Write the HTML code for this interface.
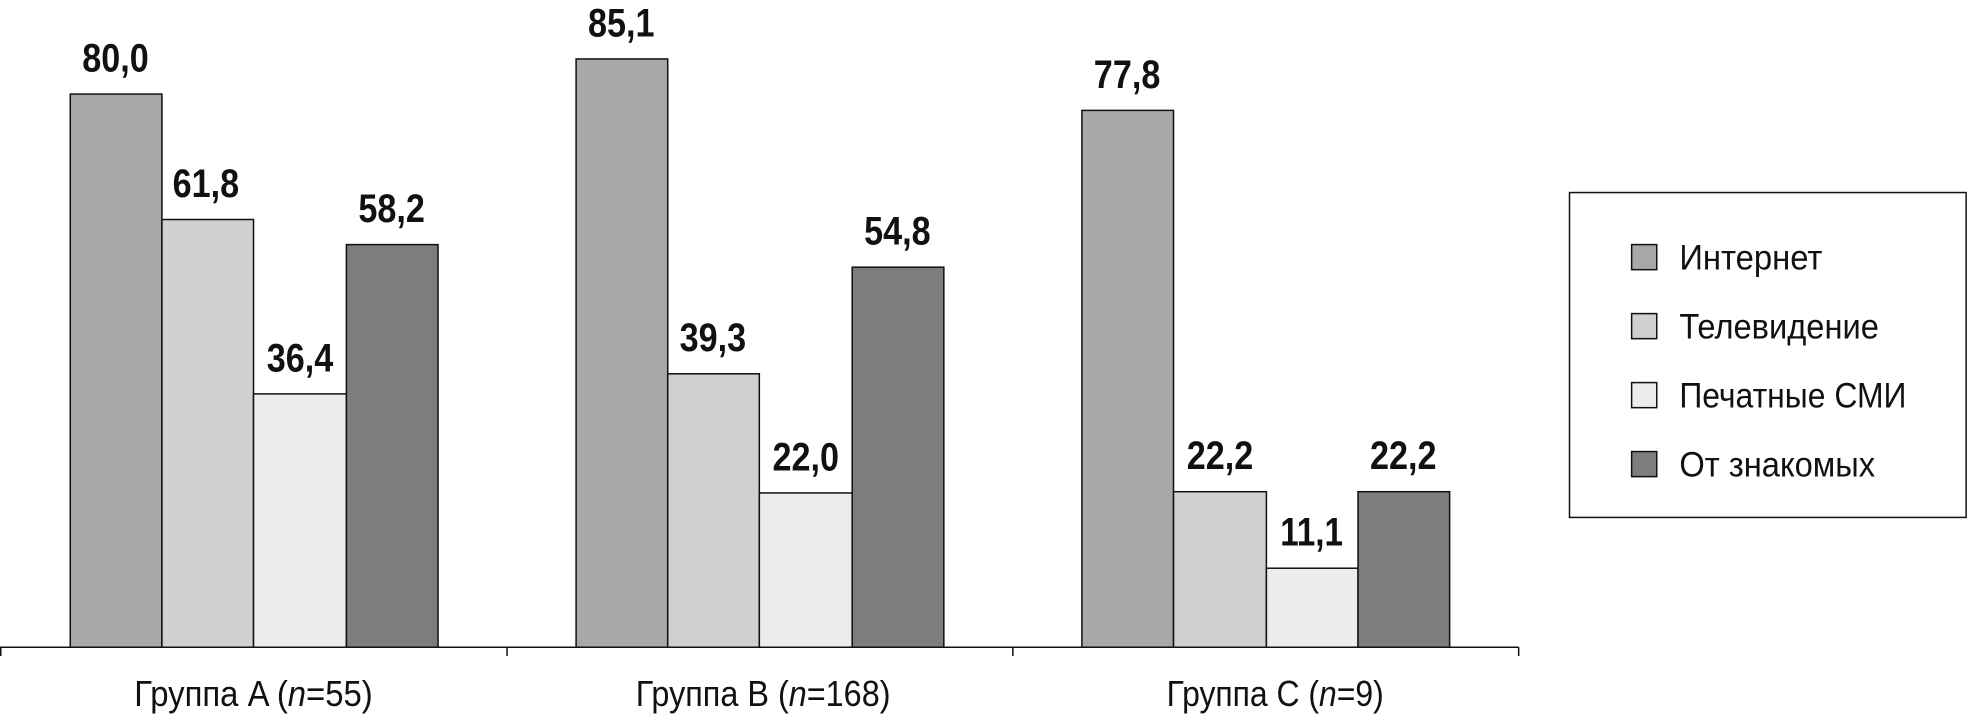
<!DOCTYPE html>
<html><head><meta charset="utf-8"><style>
html,body{margin:0;padding:0;background:#fff;}
svg{display:block;}
text{font-family:"Liberation Sans",sans-serif;fill:#111;}
.v{font-weight:bold;font-size:32px;text-anchor:middle;}
.c{font-size:29px;text-anchor:middle;}
.l{font-size:28px;}
</style></head><body>
<svg width="1968" height="720" viewBox="0 0 1568 574" preserveAspectRatio="none" xmlns="http://www.w3.org/2000/svg">
<g stroke="#111" stroke-width="1.2">
<rect x="56" y="75" width="73" height="441" fill="#a8a8a8"/>
<rect x="129" y="175" width="73" height="341" fill="#d0d0d0"/>
<rect x="202" y="314" width="74" height="202" fill="#ececec"/>
<rect x="276" y="195" width="73" height="321" fill="#7d7d7d"/>
<rect x="459" y="47" width="73" height="469" fill="#a8a8a8"/>
<rect x="532" y="298" width="73" height="218" fill="#d0d0d0"/>
<rect x="605" y="393" width="74" height="123" fill="#ececec"/>
<rect x="679" y="213" width="73" height="303" fill="#7d7d7d"/>
<rect x="862" y="88" width="73" height="428" fill="#a8a8a8"/>
<rect x="935" y="392" width="74" height="124" fill="#d0d0d0"/>
<rect x="1009" y="453" width="73" height="63" fill="#ececec"/>
<rect x="1082" y="392" width="73" height="124" fill="#7d7d7d"/>
<line x1="0" y1="516" x2="1210" y2="516"/>
<line x1="0.6" y1="516" x2="0.6" y2="523"/>
<line x1="404" y1="516" x2="404" y2="523"/>
<line x1="807" y1="516" x2="807" y2="523"/>
<line x1="1210" y1="516" x2="1210" y2="523"/>
<rect x="1250.5" y="153.5" width="316" height="259" fill="#fff"/>
<rect x="1300" y="195" width="20" height="20" fill="#a8a8a8"/>
<rect x="1300" y="250" width="20" height="20" fill="#d0d0d0"/>
<rect x="1300" y="305" width="20" height="20" fill="#ececec"/>
<rect x="1300" y="360" width="20" height="20" fill="#7d7d7d"/>
</g>
<text class="v" x="92" y="57" textLength="53" lengthAdjust="spacingAndGlyphs">80,0</text>
<text class="v" x="164" y="157" textLength="53" lengthAdjust="spacingAndGlyphs">61,8</text>
<text class="v" x="239" y="296" textLength="53" lengthAdjust="spacingAndGlyphs">36,4</text>
<text class="v" x="312" y="177" textLength="53" lengthAdjust="spacingAndGlyphs">58,2</text>
<text class="v" x="495" y="29" textLength="53" lengthAdjust="spacingAndGlyphs">85,1</text>
<text class="v" x="568" y="280" textLength="53" lengthAdjust="spacingAndGlyphs">39,3</text>
<text class="v" x="642" y="375" textLength="53" lengthAdjust="spacingAndGlyphs">22,0</text>
<text class="v" x="715" y="195" textLength="53" lengthAdjust="spacingAndGlyphs">54,8</text>
<text class="v" x="898" y="70" textLength="53" lengthAdjust="spacingAndGlyphs">77,8</text>
<text class="v" x="972" y="374" textLength="53" lengthAdjust="spacingAndGlyphs">22,2</text>
<text class="v" x="1045" y="435" textLength="50" lengthAdjust="spacingAndGlyphs">11,1</text>
<text class="v" x="1118" y="374" textLength="53" lengthAdjust="spacingAndGlyphs">22,2</text>
<text class="c" x="202" y="563" textLength="190" lengthAdjust="spacingAndGlyphs">Группа A (<tspan font-style="italic">n</tspan>=55)</text>
<text class="c" x="608" y="563" textLength="203" lengthAdjust="spacingAndGlyphs">Группа B (<tspan font-style="italic">n</tspan>=168)</text>
<text class="c" x="1016" y="563" textLength="173" lengthAdjust="spacingAndGlyphs">Группа C (<tspan font-style="italic">n</tspan>=9)</text>
<text class="l" x="1338" y="215" textLength="114" lengthAdjust="spacingAndGlyphs">Интернет</text>
<text class="l" x="1338" y="270" textLength="159" lengthAdjust="spacingAndGlyphs">Телевидение</text>
<text class="l" x="1338" y="325" textLength="181" lengthAdjust="spacingAndGlyphs">Печатные СМИ</text>
<text class="l" x="1338" y="380" textLength="156" lengthAdjust="spacingAndGlyphs">От знакомых</text>
</svg>
</body></html>
